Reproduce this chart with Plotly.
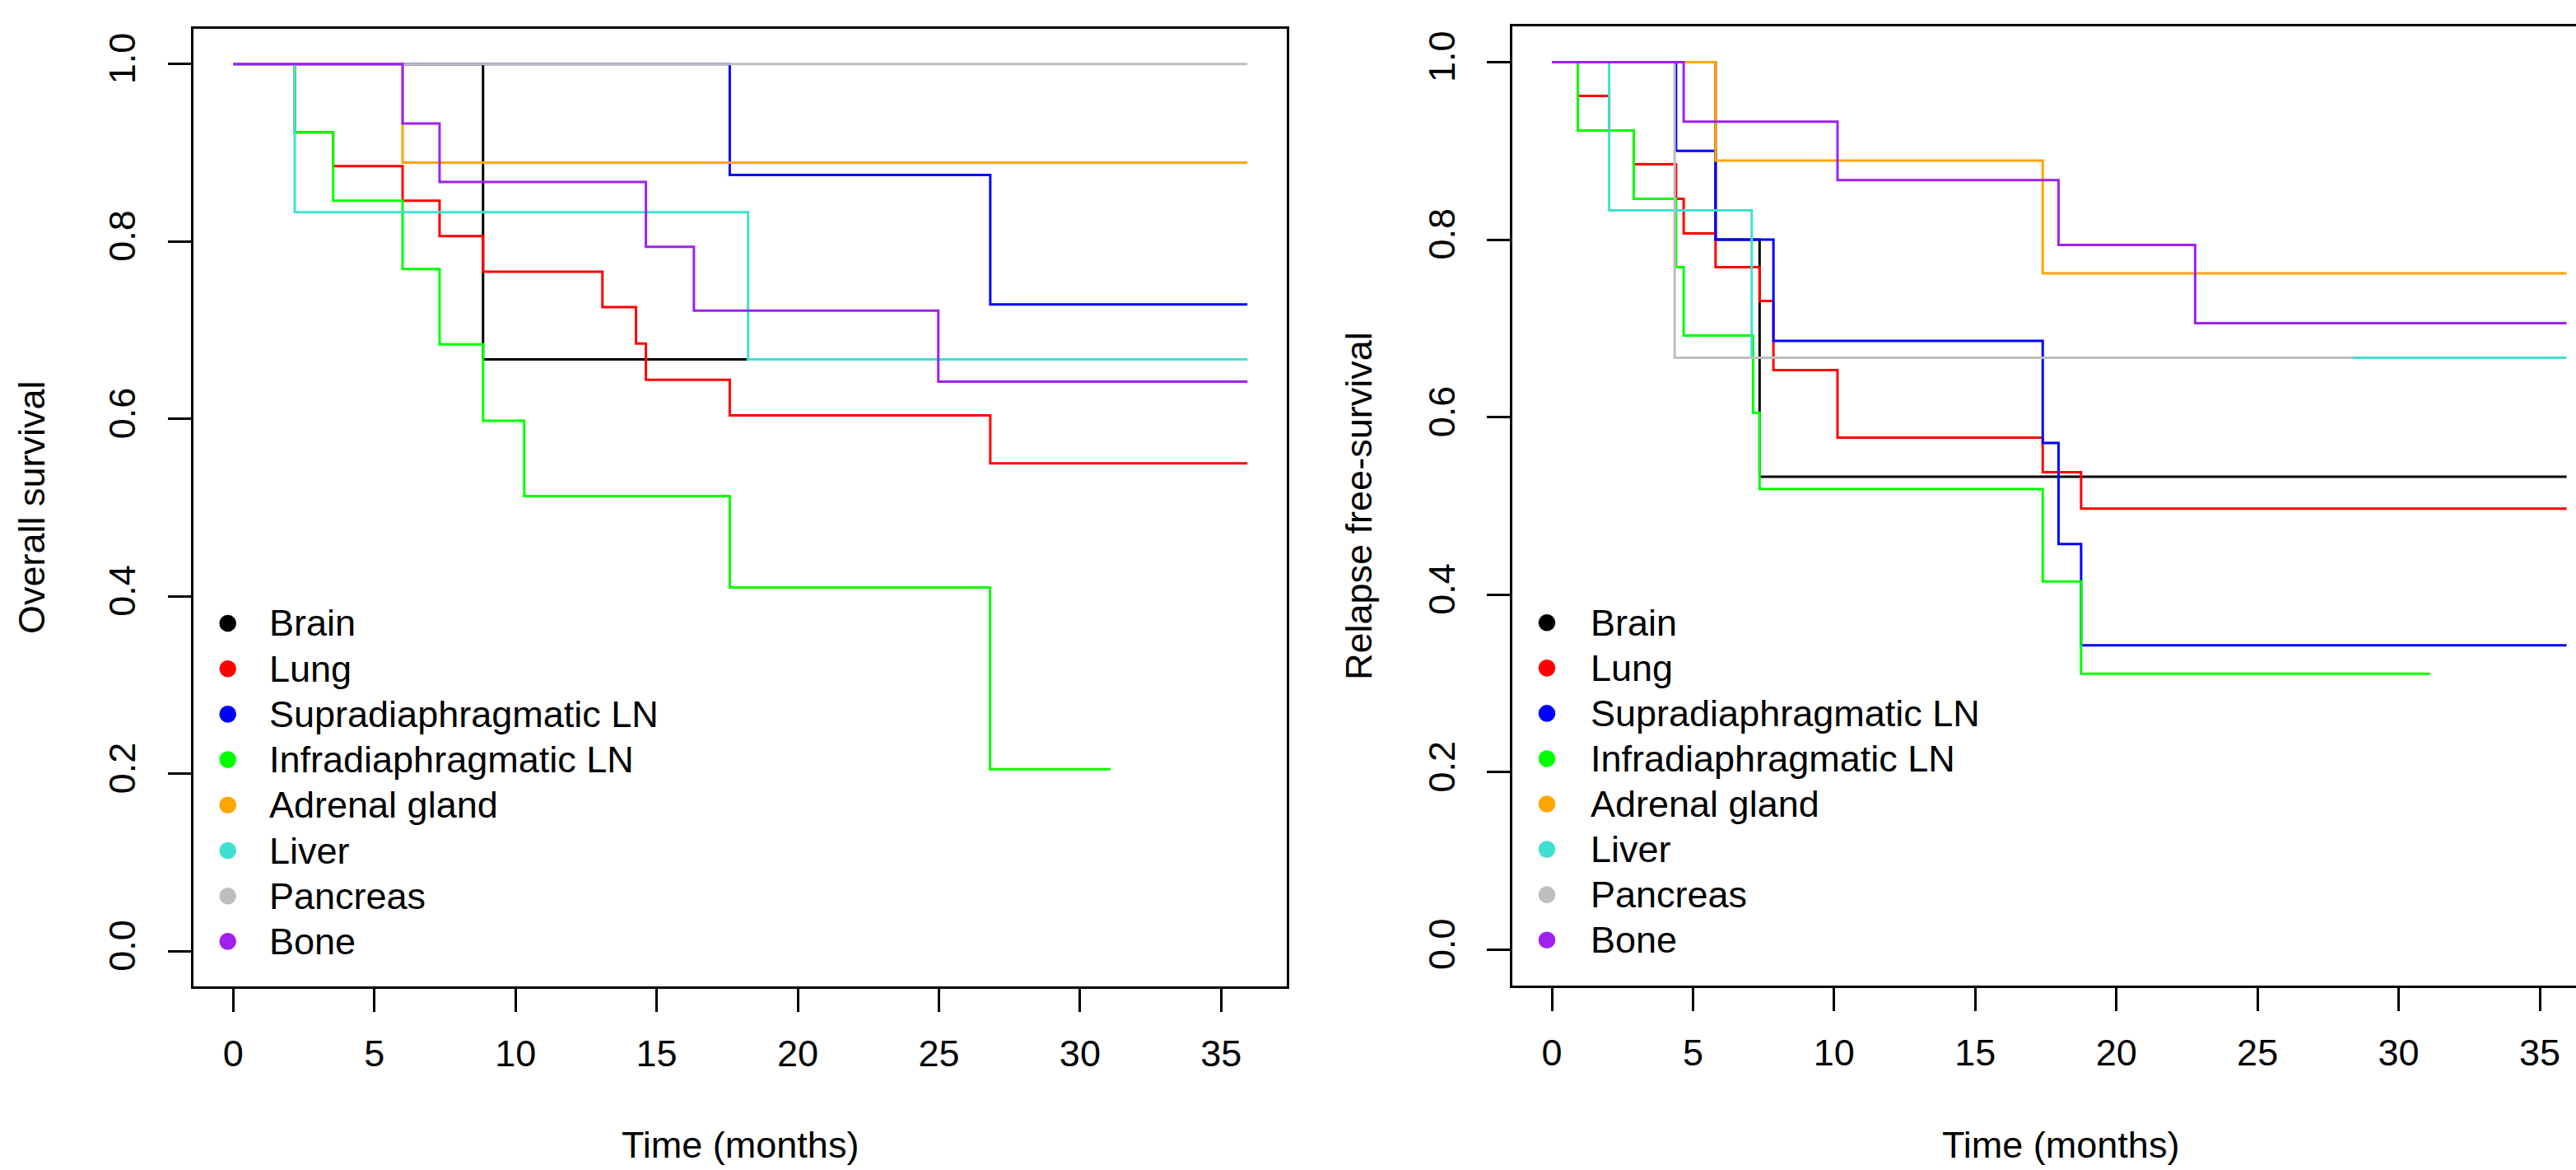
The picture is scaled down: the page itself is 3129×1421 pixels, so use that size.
import plotly.graph_objects as go

# ---------------- data ----------------
sites = ["Brain", "Lung", "Supradiaphragmatic LN", "Infradiaphragmatic LN",
         "Adrenal gland", "Liver", "Pancreas", "Bone"]
colors = ["#000000", "#FF0000", "#0000FF", "#00FF00",
          "#FFA500", "#40E0D0", "#BEBEBE", "#A020F0"]

# Overall survival (left panel): step times and survival values
os_brain_t = [0, 8.85, 18.2]
os_brain_s = [1, 0.667, 0.667]
os_lung_t = [0, 2.18, 3.54, 6.0, 7.31, 8.85, 13.08, 14.27, 14.62, 17.59, 26.82, 35.93]
os_lung_s = [1, 0.923, 0.885, 0.846, 0.806, 0.766, 0.726, 0.685, 0.644, 0.604, 0.550, 0.550]
os_supra_t = [0, 17.59, 26.82, 35.93]
os_supra_s = [1, 0.875, 0.729, 0.729]
os_infra_t = [0, 2.18, 3.54, 6.0, 7.31, 8.85, 10.31, 17.59, 26.81, 31.08]
os_infra_s = [1, 0.923, 0.846, 0.769, 0.684, 0.598, 0.513, 0.410, 0.205, 0.205]
os_adrenal_t = [0, 6.0, 35.93]
os_adrenal_s = [1, 0.889, 0.889]
os_liver_t = [0, 2.18, 18.24, 35.93]
os_liver_s = [1, 0.833, 0.667, 0.667]
os_pancreas_t = [0, 35.93]
os_pancreas_s = [1, 1]
os_bone_t = [0, 6.0, 7.31, 14.62, 16.32, 24.98, 35.93]
os_bone_s = [1, 0.933, 0.867, 0.794, 0.722, 0.642, 0.642]

# Relapse free-survival (right panel)
rfs_brain_t = [0, 5.80, 7.36, 35.95]
rfs_brain_s = [1, 0.8, 0.533, 0.533]
rfs_lung_t = [0, 0.92, 2.03, 2.90, 4.40, 4.67, 5.80, 7.36, 7.85, 10.12, 17.39, 18.75, 35.95]
rfs_lung_s = [1, 0.962, 0.923, 0.885, 0.846, 0.807, 0.769, 0.731, 0.653, 0.577, 0.538, 0.497, 0.497]
rfs_supra_t = [0, 4.40, 5.80, 7.85, 17.39, 17.95, 18.75, 35.95]
rfs_supra_s = [1, 0.9, 0.8, 0.686, 0.571, 0.457, 0.343, 0.343]
rfs_infra_t = [0, 0.92, 2.90, 4.40, 4.67, 7.13, 7.36, 17.39, 18.75, 31.11]
rfs_infra_s = [1, 0.923, 0.846, 0.769, 0.692, 0.605, 0.519, 0.415, 0.311, 0.311]
rfs_adrenal_t = [0, 5.80, 17.39, 35.95]
rfs_adrenal_s = [1, 0.889, 0.762, 0.762]
rfs_liver_t = [0, 2.03, 7.08, 35.95]
rfs_liver_s = [1, 0.833, 0.667, 0.667]
rfs_pancreas_t = [0, 4.35, 28.41]
rfs_pancreas_s = [1, 0.667, 0.667]
rfs_bone_t = [0, 4.67, 10.12, 17.95, 22.79, 35.95]
rfs_bone_s = [1, 0.933, 0.867, 0.794, 0.706, 0.706]

x_ticks = [0, 5, 10, 15, 20, 25, 30, 35]
y_ticks = [0.0, 0.2, 0.4, 0.6, 0.8, 1.0]
y_ticklabels = ["0.0", "0.2", "0.4", "0.6", "0.8", "1.0"]

os_curves = [(os_brain_t, os_brain_s), (os_lung_t, os_lung_s), (os_supra_t, os_supra_s),
             (os_infra_t, os_infra_s), (os_adrenal_t, os_adrenal_s), (os_liver_t, os_liver_s),
             (os_pancreas_t, os_pancreas_s), (os_bone_t, os_bone_s)]
rfs_curves = [(rfs_brain_t, rfs_brain_s), (rfs_lung_t, rfs_lung_s), (rfs_supra_t, rfs_supra_s),
              (rfs_infra_t, rfs_infra_s), (rfs_adrenal_t, rfs_adrenal_s), (rfs_liver_t, rfs_liver_s),
              (rfs_pancreas_t, rfs_pancreas_s), (rfs_bone_t, rfs_bone_s)]

# ---------------- layout constants ----------------
W, H = 3129, 1421
FONT = "Liberation Sans, Arial, Helvetica, sans-serif"
FS = 45


def px_x(p):
    return p / W


def px_y(p):
    return 1 - p / H


fig = go.Figure()

for (t, s), name, col in zip(os_curves, sites, colors):
    fig.add_trace(go.Scatter(x=t, y=s, mode="lines", line=dict(shape="hv", color=col, width=3),
                             name=name, showlegend=False, xaxis="x", yaxis="y"))
for (t, s), name, col in zip(rfs_curves, sites, colors):
    fig.add_trace(go.Scatter(x=t, y=s, mode="lines", line=dict(shape="hv", color=col, width=3),
                             name=name, showlegend=False, xaxis="x2", yaxis="y2"))

common_x = dict(tickmode="array", tickvals=x_ticks, ticktext=[str(v) for v in x_ticks],
                ticks="outside", ticklen=28, tickwidth=3, tickcolor="black",
                showline=True, linewidth=3, linecolor="black", showgrid=False, zeroline=False,
                tickfont=dict(family=FONT, size=FS, color="black"), ticklabelstandoff=12)
common_y = dict(tickmode="array", tickvals=y_ticks, ticktext=y_ticklabels,
                ticks="outside", ticklen=28, tickwidth=3, tickcolor="black",
                showline=True, linewidth=3, linecolor="black", showgrid=False, zeroline=False,
                tickangle=-90, range=[-0.04, 1.04],
                tickfont=dict(family=FONT, size=FS, color="black"))

# left panel box 235..1563.3 px, right panel box from 1836.7 px (cropped at canvas edge)
fig.update_layout(
    width=W, height=H, autosize=False,
    margin=dict(l=0, r=0, t=0, b=0),
    paper_bgcolor="white", plot_bgcolor="white",
    showlegend=False,
    font=dict(family=FONT, size=FS, color="black"),
    xaxis=dict(domain=[px_x(235), px_x(1563.3)], range=[-1.409, 37.333], anchor="y",
               mirror=True, **common_x),
    yaxis=dict(domain=[px_y(1198.3), px_y(34.7)], anchor="x", mirror=True,
               ticklabelstandoff=22, **common_y),
    xaxis2=dict(domain=[px_x(1836.7), 1.0], range=[-1.409, 36.283], anchor="y2",
                mirror=True, **common_x),
    yaxis2=dict(domain=[px_y(1196.7), px_y(32.3)], anchor="x2", mirror=False,
                ticklabelstandoff=21, **common_y),
)

annotations = [
    dict(text="Time (months)", x=px_x(899), y=px_y(1390), xref="paper", yref="paper",
         xanchor="center", yanchor="middle", showarrow=False, font=dict(size=FS)),
    dict(text="Time (months)", x=px_x(2503), y=px_y(1390), xref="paper", yref="paper",
         xanchor="center", yanchor="middle", showarrow=False, font=dict(size=FS)),
    dict(text="Overall survival", x=px_x(38), y=px_y(616), xref="paper", yref="paper",
         xanchor="center", yanchor="middle", textangle=-90, showarrow=False, font=dict(size=FS)),
    dict(text="Relapse free-survival", x=px_x(1650), y=px_y(615), xref="paper", yref="paper",
         xanchor="center", yanchor="middle", textangle=-90, showarrow=False, font=dict(size=FS)),
]

# legends (one per panel): dot + label rows
shapes = []
legend_specs = [(276.7, 325, 757.0, 55.2), (1879, 1930, 756.3, 55.06)]
R = 10.3
for dot_x, text_x, y0, dy in legend_specs:
    for i, (name, col) in enumerate(zip(sites, colors)):
        yc = y0 + i * dy
        shapes.append(dict(type="circle", xref="paper", yref="paper",
                           x0=px_x(dot_x - R), x1=px_x(dot_x + R),
                           y0=px_y(yc + R), y1=px_y(yc - R),
                           fillcolor=col, line=dict(width=0)))
        annotations.append(dict(text=name, x=px_x(text_x), y=px_y(yc), xref="paper", yref="paper",
                                xanchor="left", yanchor="middle", showarrow=False,
                                font=dict(size=FS)))

fig.update_layout(annotations=annotations, shapes=shapes)

fig.write_html("out.html", config={"displayModeBar": False},
               post_script="document.body.style.margin='0px';document.body.style.overflow='hidden';")
